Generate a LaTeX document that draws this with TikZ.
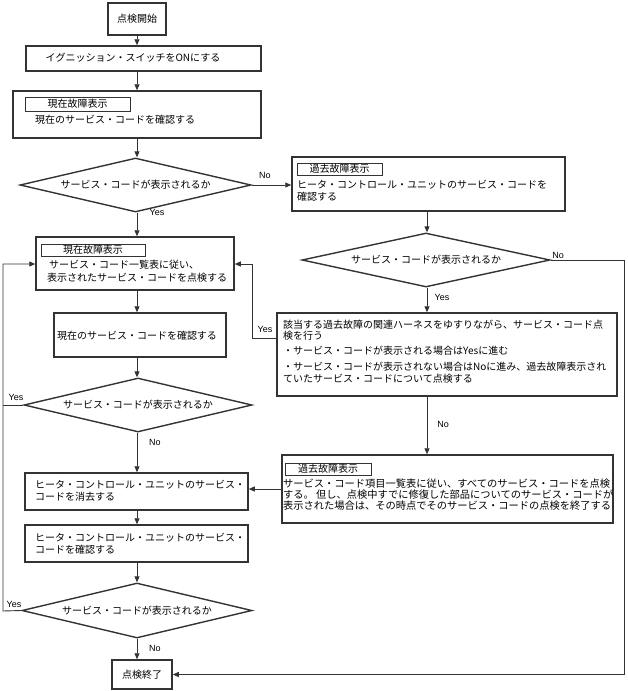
\documentclass[tikz,border=0pt]{standalone}
\usepackage{fontspec}
\setmainfont{Noto Sans CJK JP}
\newfontfamily\lblfont{Liberation Sans}
\usetikzlibrary{arrows.meta,shapes.geometric}
\begin{document}
\begin{tikzpicture}[x=1pt,y=-1pt,
  box/.style={draw=black!80, line width=1.5pt, inner sep=0pt, rectangle},
  tag/.style={draw=black!80, line width=0.7pt, inner sep=0pt, rectangle, font=\fontsize{10}{11}\selectfont},
  txt/.style={anchor=west, inner sep=0pt, font=\fontsize{10}{11}\selectfont, text height=8pt, text depth=2pt},
  wtxt/.style={txt, font=\fontsize{10.25}{11}\selectfont},
  ctxt/.style={inner sep=0pt, font=\fontsize{10}{11}\selectfont, text height=8pt, text depth=2pt},
  dia/.style={diamond, draw=black!80, line width=1.4pt, inner sep=0pt, aspect=4.3, font=\fontsize{10}{11}\selectfont},
  lbl/.style={inner sep=0pt, font=\lblfont\fontsize{9}{10}\selectfont},
  ln/.style={draw=black!80, line width=0.9pt},
  arr/.style={draw=black!80, line width=0.9pt, -{Triangle[length=6pt,width=5pt]}}]
\useasboundingbox (0,0) rectangle (627,691);
\coordinate (colL) at (137,0);
\coordinate (colR) at (427,0);

% boxes
\node[box, minimum width=58pt, minimum height=32pt] (start) at (137,19) {};
\node[ctxt] (startt) at (137,19) {点検開始};
\node[box, minimum width=235pt, minimum height=25pt] (ign) at (143.5,58.5) {};
\node[ctxt] (ignt) at (133,58.5) {イグニッション・スイッチをONにする};

\node[box, minimum width=248pt, minimum height=47pt] (box1) at (137,114.5) {};
\node[tag, minimum width=105pt, minimum height=14pt] (tag1) at (77.5,104) {現在故障表示};
\node[txt] (box1t) at (35,120) {現在のサービス・コードを確認する};

\node[dia, minimum width=231pt, minimum height=54pt] (d1) at (135.5,185) {サービス・コードが表示されるか};

\node[box, minimum width=273pt, minimum height=54pt] (rbox1) at (428.5,184) {};
\node[tag, minimum width=85pt, minimum height=12pt] (tag2) at (339.5,169) {過去故障表示};
\node[txt] (rbox1a) at (297,185) {ヒータ・コントロール・ユニットのサービス・コードを};
\node[txt] (rbox1b) at (297,197) {確認する};

\node[dia, minimum width=248pt, minimum height=54pt] (d2) at (426,260) {サービス・コードが表示されるか};

\node[box, minimum width=198pt, minimum height=53pt] (lbox2) at (135,263.5) {};
\node[tag, minimum width=104pt, minimum height=12pt] (tag3) at (93,250) {現在故障表示};
\node[txt] (lbox2a) at (49,265) {サービス・コード一覧表に従い、};
\node[txt] (lbox2b) at (47,278) {表示されたサービス・コードを点検する};

\node[box, minimum width=172pt, minimum height=44pt] (kak) at (140,335) {};
\node[ctxt] (kakt) at (137,336) {現在のサービス・コードを確認する};

\node[box, minimum width=340pt, minimum height=83pt] (gai) at (447,354.5) {};
\node[txt] (gaia) at (283,325) {該当する過去故障の関連ハーネスをゆすりながら、サービス・コード点};
\node[txt] (gaib) at (283,336) {検を行う};
\node[txt] (gaic) at (283,351) {・サービス・コードが表示される場合はYesに進む};
\node[txt] (gaid) at (283,367) {・サービス・コードが表示されない場合はNoに進み、過去故障表示され};
\node[txt] (gaie) at (283,379) {ていたサービス・コードについて点検する};

\node[dia, minimum width=228pt, minimum height=54pt] (d3) at (138,405) {サービス・コードが表示されるか};

\node[box, minimum width=331pt, minimum height=68pt] (rbox2) at (447.5,489) {};
\node[tag, minimum width=86pt, minimum height=12pt] (tag4) at (328,469) {過去故障表示};
\node[wtxt] (rbox2a) at (283,484) {サービス・コード項目一覧表に従い、すべてのサービス・コードを点検};
\node[wtxt] (rbox2b) at (283,495) {する。 但し、点検中すでに修復した部品についてのサービス・コードが};
\node[wtxt] (rbox2c) at (283,506) {表示された場合は、その時点でそのサービス・コードの点検を終了する};

\node[box, minimum width=223pt, minimum height=37pt] (sho) at (136.5,491.5) {};
\node[txt] (shoa) at (35,485) {ヒータ・コントロール・ユニットのサービス・};
\node[txt] (shob) at (35,497) {コードを消去する};

\node[box, minimum width=223pt, minimum height=37pt] (hk) at (136.5,543.5) {};
\node[txt] (hka) at (35,538) {ヒータ・コントロール・ユニットのサービス・};
\node[txt] (hkb) at (35,550) {コードを確認する};

\node[dia, minimum width=230pt, minimum height=55pt] (d4) at (137,610.5) {サービス・コードが表示されるか};

\node[box, minimum width=60pt, minimum height=29pt] (endb) at (142,674.5) {};
\node[ctxt] (endt) at (142,675) {点検終了};

% connectors
\draw[arr] (start.south -| colL) -- (ign.north -| colL);
\draw[arr] (ign.south -| colL) -- (box1.north -| colL);
\draw[arr] (box1.south -| colL) -- (d1.north -| colL);
\draw[arr] (d1.east) -- (rbox1.west |- d1.east);
\draw[arr] (d1.south -| colL) -- (lbox2.north -| colL);
\draw[arr] (rbox1.south -| colR) -- (d2.north -| colR);
\draw[arr] (d2.south -| colR) -- (gai.north -| colR);
\coordinate (rr) at (624,260);
\draw[arr] (d2.east) -- (rr) |- (endb.east);
\coordinate (g1) at (277,338);
\coordinate (gy) at (252,338);
\coordinate (gy2) at (252,264);
\draw[arr] (g1) -- (gy) -- (gy2) -- (gy2 -| lbox2.east);
\draw[arr] (lbox2.south -| colL) -- (kak.north -| colL);
\draw[arr] (kak.south -| colL) -- (d3.north -| colL);
\draw[arr] (d3.south -| colL) -- (sho.north -| colL);
\coordinate (ly1) at (3,611);
\coordinate (ly2) at (3,264);
\draw[ln] (d3.west) -- (d3.west -| ly1);
\draw[arr] (gai.south -| colR) -- (rbox2.north -| colR);
\draw[arr] (rbox2.west) -- (rbox2.west -| sho.east);
\draw[arr] (sho.south -| colL) -- (hk.north -| colL);
\draw[arr] (hk.south -| colL) -- (d4.north -| colL);
\draw[arr] (d4.west) -- (ly1) -- (ly2) -- (ly2 -| lbox2.west);
\draw[arr] (d4.south -| colL) -- (endb.north -| colL);

% labels
\node[lbl] (l1) at (265,175) {No};
\node[lbl] (l2) at (157,212) {Yes};
\node[lbl] (l3) at (558,255) {No};
\node[lbl] (l4) at (442,297) {Yes};
\node[lbl] (l5) at (265,329) {Yes};
\node[lbl] (l6) at (16,397) {Yes};
\node[lbl] (l7) at (155,442) {No};
\node[lbl] (l8) at (443,424) {No};
\node[lbl] (l9) at (14,604) {Yes};
\node[lbl] (l10) at (155,648) {No};
\end{tikzpicture}
\end{document}
